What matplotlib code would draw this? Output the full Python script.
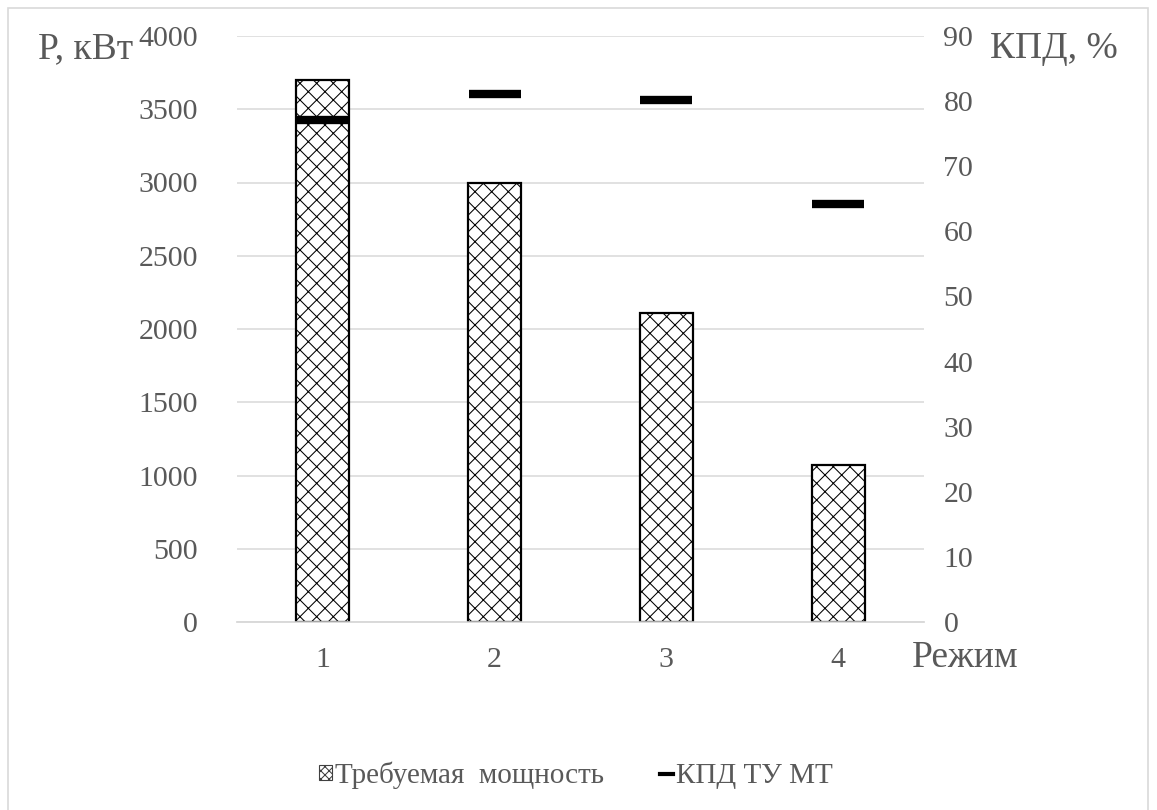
import matplotlib
matplotlib.use("Agg")
import matplotlib.pyplot as plt
import matplotlib.patches as mpatches
from matplotlib.lines import Line2D

plt.rcParams["font.family"] = ["Liberation Serif", "DejaVu Serif"]
plt.rcParams["hatch.linewidth"] = 0.75
plt.rcParams["hatch.color"] = "#4a4a4a"

TEXT_GREY = "#595959"
GRID_GREY = "#d9d9d9"

modes = ["1", "2", "3", "4"]
power_kw = [3700, 3000, 2110, 1075]
efficiency_pct = [77.1, 81.1, 80.2, 64.2]

fig = plt.figure(figsize=(11.57, 8.10), dpi=100)
fig.patch.set_facecolor("white")

# thin frame around the chart area
fig.add_artist(mpatches.Rectangle((8 / 1157, -0.01), 1140 / 1157, 1 - 8 / 810 + 0.01,
                                  transform=fig.transFigure, fill=False,
                                  edgecolor="#d9d9d9", linewidth=1.2))

ax = fig.add_axes([237 / 1157, (810 - 622) / 810, (924 - 237) / 1157, 586 / 810])
ax2 = ax.twinx()

x = list(range(len(modes)))
ax.bar(x, power_kw, width=0.31, facecolor="white", edgecolor="black",
       linewidth=1.6, hatch="xx", zorder=3, label="Требуемая  мощность")
ax.set_xlim(-0.5, len(modes) - 0.5)
ax.set_ylim(0, 4000)
ax.set_yticks(range(0, 4001, 500))
ax.set_xticks(x)
ax.set_xticklabels(modes)
ax.yaxis.grid(True, color=GRID_GREY, linewidth=1.1)
ax.set_axisbelow(True)

ax2.plot(x, efficiency_pct, linestyle="none", marker="_", markersize=38,
         markeredgewidth=6, color="black", zorder=4, label="КПД ТУ МТ")
ax2.set_ylim(0, 90)
ax2.set_yticks(range(0, 91, 10))

for a in (ax, ax2):
    for side in ("top", "left", "right"):
        a.spines[side].set_visible(False)
    a.spines["bottom"].set_color(GRID_GREY)
    a.spines["bottom"].set_linewidth(1.1)
    a.tick_params(length=0, labelsize=21.5, colors=TEXT_GREY)
ax.tick_params(axis="y", pad=28)
ax.tick_params(axis="x", pad=18)
ax2.tick_params(axis="y", pad=14)

fig.text(38 / 1157, 1 - 49 / 810, "P, кВт", fontsize=27, color=TEXT_GREY,
         ha="left", va="center")
fig.text(990 / 1157, 1 - 49 / 810, "КПД, %", fontsize=27, color=TEXT_GREY,
         ha="left", va="center")
fig.text(912 / 1157, 1 - 658 / 810, "Режим", fontsize=27, color=TEXT_GREY,
         ha="left", va="center")

handles = [
    mpatches.Patch(facecolor="white", edgecolor="#404040", hatch="xxxx",
                   linewidth=0.8, label="Требуемая  мощность"),
    Line2D([], [], color="black", linewidth=3, label="КПД ТУ МТ"),
]
leg = fig.legend(handles=handles, loc="center", bbox_to_anchor=(576 / 1157, 1 - 775 / 810),
                 ncol=2, frameon=False, fontsize=21, handlelength=0.45,
                 handleheight=0.45, handletextpad=0.12, columnspacing=1.9,
                 labelcolor=TEXT_GREY)

fig.savefig("out.png", dpi=100, facecolor="white")
